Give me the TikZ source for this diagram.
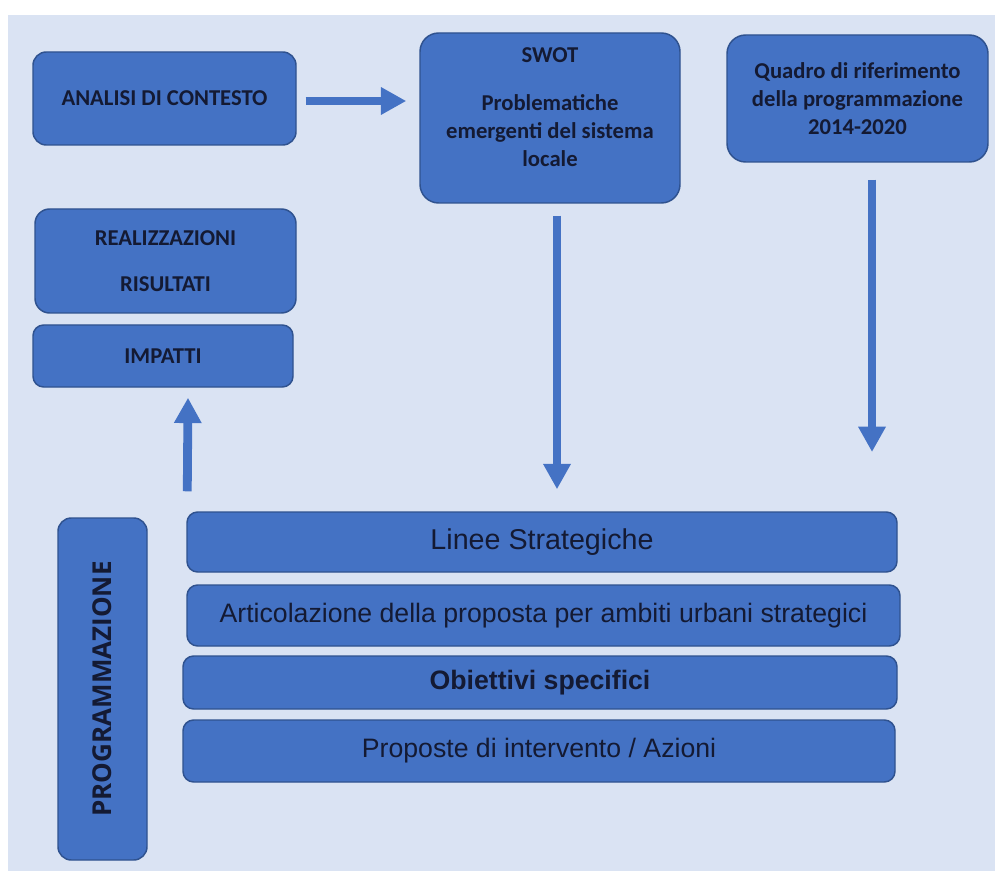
\documentclass[tikz,border=0pt]{standalone}
\usepackage{fontspec}
\setmainfont{Carlito}
\newfontfamily\arialf{Liberation Sans}
\newfontfamily\opensans{Open Sans}
\usetikzlibrary{arrows.meta}
\definecolor{bgc}{HTML}{DAE3F3}
\definecolor{boxfill}{HTML}{4472C4}
\definecolor{boxline}{HTML}{2F528F}
\definecolor{arrc}{HTML}{4472C4}
\definecolor{txtc}{HTML}{141A33}
\begin{document}
\begin{tikzpicture}[x=0.75pt,y=-0.75pt,
  sz/.style 2 args={minimum width=#1*0.75pt, minimum height=#2*0.75pt},
  box/.style={draw=boxline, line width=1.1pt, fill=boxfill, rounded corners=10pt,
    inner sep=0pt, text=txtc, align=center},
  toptxt/.style={font=\bfseries\fontsize{17}{21}\selectfont, text=txtc, align=center, inner sep=0pt},
  bartxt/.style={font=\arialf\fontsize{20}{24}\selectfont},
  barbold/.style={font=\arialf\bfseries\fontsize{20}{24}\selectfont},
  arr/.style={draw=arrc, line width=6.6pt, -{Triangle[width=19.5pt,length=19pt]}}
]
\useasboundingbox (0,0) rectangle (995,873);
\fill[white] (0,0) rectangle (995,873);
\fill[bgc] (8,15) rectangle (995,871);

% top row
\node[box, sz={263}{93}, toptxt] (analisi) at (164.5,98.5) {ANALISI DI CONTESTO};
\node[box, sz={260}{170}, rounded corners=14pt] (swot) at (550,118) {};
\node[toptxt] (swottxt) at (550,107.5) {SWOT\\[15pt]Problematiche\\emergenti del sistema\\locale};
\node[box, sz={261}{127}, rounded corners=14pt, toptxt] (quadro) at (857.5,98.5)
  {Quadro di riferimento\\della programmazione\\2014-2020};

% left column
\node[box, sz={261}{104}, rounded corners=11pt, toptxt] (real) at (165.5,261)
  {REALIZZAZIONI\\[14pt]RISULTATI};
\node[box, sz={260}{62}, rounded corners=8pt, toptxt] (impatti) at (163,356) {IMPATTI};

% programmazione
\node[box, sz={342}{89}, rotate=90, font=\opensans\bfseries\fontsize{19.5}{23}\selectfont] (prog)
  at (102.5,689) {PROGRAMMAZIONE};

% bars
\node[box, sz={710}{60}, rounded corners=8pt, font=\arialf\fontsize{21.5}{25}\selectfont] (linee)
  at (542,542) {Linee Strategiche};
\node[box, sz={713}{61}, rounded corners=8pt, bartxt] (artic) at (543.5,615.5)
  {Articolazione della proposta per ambiti urbani strategici};
\node[box, sz={714}{53}, rounded corners=8pt, barbold] (obiet) at (540,682.5)
  {Obiettivi specifici};
\node[box, sz={712}{62}, rounded corners=8pt, bartxt] (propo) at (539,751)
  {Proposte di intervento / Azioni};

% arrows
\draw[arr] ([shift={(9,2.5)}]analisi.east) -- ([shift={(-13,-17)}]swot.west);
\draw[arr] ([shift={(1,-20)}]linee.north west) -- ([shift={(25,10)}]impatti.south);
\draw[arr] ([shift={(7,12)}]swot.south) -- ([shift={(15,-22)}]linee.north);
\coordinate (qend) at (872,452);
\draw[arr] ([shift={(14.5,17)}]quadro.south) -- (qend);
\end{tikzpicture}
\end{document}
